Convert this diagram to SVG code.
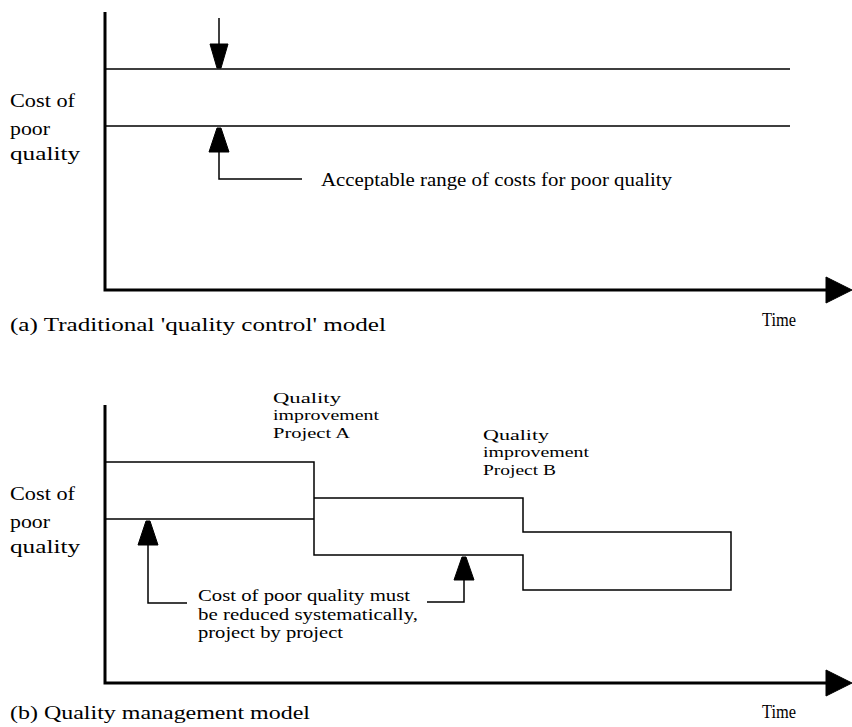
<svg xmlns="http://www.w3.org/2000/svg" width="852" height="727" viewBox="0 0 852 727">
<style>
text{font-family:"Liberation Serif","DejaVu Serif",serif;font-size:18px;fill:#000}
.sm{font-size:17px}
.xs{font-size:15px}
.ax{stroke:#000;stroke-width:3;fill:none}
.ln{stroke:#000;stroke-width:1.5;fill:none}
.hd{fill:#000;stroke:#000;stroke-width:1;stroke-linejoin:round}
</style>
<rect width="852" height="727" fill="#fff"/>
<g id="panel-a">
  <g id="axes-a">
    <path class="ax" d="M105,12 V290 H830"/>
    <polygon class="hd" points="826,277 852,290 826,303"/>
  </g>
  <g id="range-a">
    <path class="ln" d="M105,69 H790 M105,126 H790"/>
  </g>
  <g id="labels-a">
    <text x="10" y="107" textLength="65" lengthAdjust="spacingAndGlyphs">Cost of</text>
    <text x="10" y="135" textLength="40" lengthAdjust="spacingAndGlyphs">poor</text>
    <text x="10" y="160" textLength="70" lengthAdjust="spacingAndGlyphs">quality</text>
    <text x="321" y="186" textLength="351" lengthAdjust="spacingAndGlyphs">Acceptable range of costs for poor quality</text>
    <text x="10" y="331" textLength="376" lengthAdjust="spacingAndGlyphs">(a) Traditional 'quality control' model</text>
    <text x="762" y="326" textLength="34" lengthAdjust="spacingAndGlyphs">Time</text>
  </g>
</g>
<g id="panel-b">
  <g id="axes-b">
    <path class="ax" d="M105,405 V683 H830"/>
    <polygon class="hd" points="826,670 852,683 826,696"/>
  </g>
  <g id="steps-b">
    <path class="ln" d="M105,462 H314 V555 H523 V590 H731 V532 H523 V498 H314"/>
    <path class="ln" d="M105,519 H314"/>
  </g>
  <g id="labels-b">
    <text x="10" y="500" textLength="65" lengthAdjust="spacingAndGlyphs">Cost of</text>
    <text x="10" y="528" textLength="40" lengthAdjust="spacingAndGlyphs">poor</text>
    <text x="10" y="553" textLength="70" lengthAdjust="spacingAndGlyphs">quality</text>
    <text class="xs" x="273" y="403" textLength="68" lengthAdjust="spacingAndGlyphs">Quality</text>
    <text class="xs" x="273" y="420" textLength="106" lengthAdjust="spacingAndGlyphs">improvement</text>
    <text class="xs" x="273" y="438" textLength="77" lengthAdjust="spacingAndGlyphs">Project A</text>
    <text class="xs" x="483" y="440" textLength="66" lengthAdjust="spacingAndGlyphs">Quality</text>
    <text class="xs" x="483" y="457" textLength="106" lengthAdjust="spacingAndGlyphs">improvement</text>
    <text class="xs" x="483" y="475" textLength="73" lengthAdjust="spacingAndGlyphs">Project B</text>
    <text class="sm" x="198" y="601" textLength="212" lengthAdjust="spacingAndGlyphs">Cost of poor quality must</text>
    <text class="sm" x="198" y="620" textLength="220" lengthAdjust="spacingAndGlyphs">be reduced systematically,</text>
    <text class="sm" x="198" y="638" textLength="145" lengthAdjust="spacingAndGlyphs">project by project</text>
    <text x="10" y="719" textLength="300" lengthAdjust="spacingAndGlyphs">(b) Quality management model</text>
    <text x="762" y="718" textLength="34" lengthAdjust="spacingAndGlyphs">Time</text>
  </g>
</g>
<g id="connectors">
  <path class="ln" d="M219,18 V45"/>
  <polygon class="hd" points="210,44 228,44 221,68 217,68"/>
  <path class="ln" d="M219,150 V179 H302"/>
  <polygon class="hd" points="217,128 221,128 229,152 209,152"/>
  <path class="ln" d="M148,543 V603 H187"/>
  <polygon class="hd" points="146,521 150,521 158,545 138,545"/>
  <path class="ln" d="M464,578 V602 H427"/>
  <polygon class="hd" points="462,557 466,557 474,580 454,580"/>
</g>
</svg>
